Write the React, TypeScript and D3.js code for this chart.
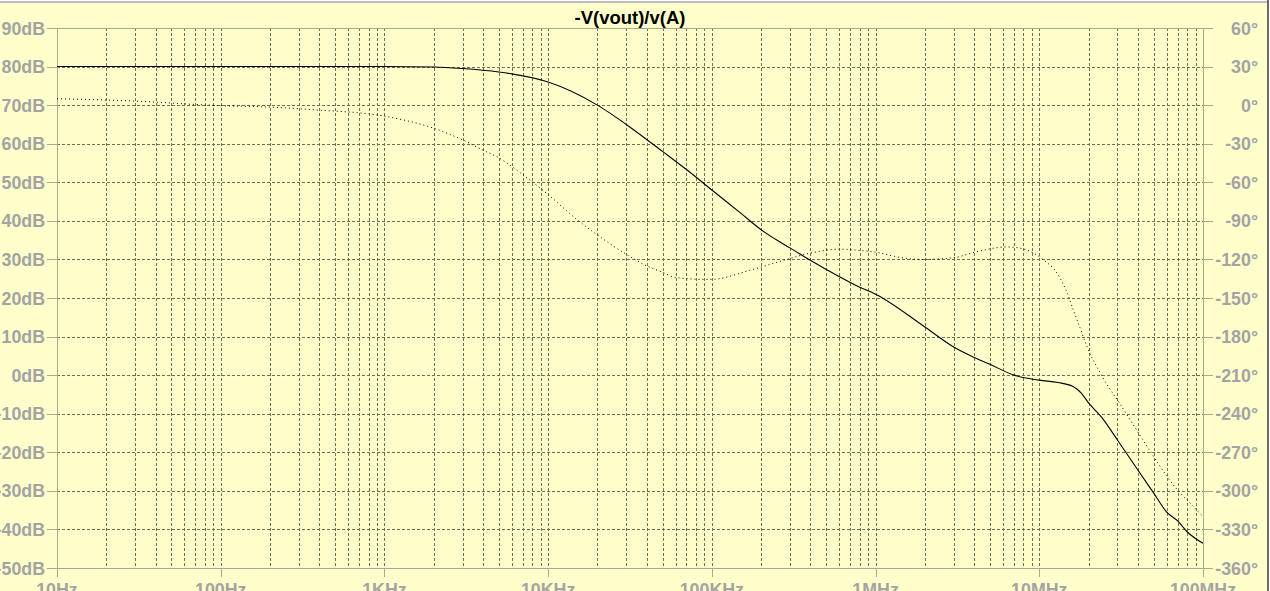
import React from "react";
import * as d3 from "d3";

const title = "-V(vout)/v(A)";
const dbTicks = [90, 80, 70, 60, 50, 40, 30, 20, 10, 0, -10, -20, -30, -40, -50];
const degTicks = [60, 30, 0, -30, -60, -90, -120, -150, -180, -210, -240, -270, -300, -330, -360];
const freqDecades = [10, 100, 1e3, 1e4, 1e5, 1e6, 1e7, 1e8];
const freqLabels = ["10Hz", "100Hz", "1KHz", "10KHz", "100KHz", "1MHz", "10MHz", "100MHz"];

const magFreq = [10, 100, 1000, 2000, 3000, 5000, 6000, 10000, 20000, 30000, 50000, 70000, 100000, 150000, 200000, 261000, 300000, 402000, 500000, 800000, 1e6, 2e6, 3e6, 4e6, 5e6, 7e6, 1e7, 1.3e7, 1.6e7, 1.8e7, 2e7, 2.4e7, 3e7, 4e7, 5e7, 6e7, 7e7, 8e7, 1e8];
const magDb = [80, 80, 80, 79.9, 79.5, 78.6, 78.1, 76, 70, 65, 58, 53.3, 48, 42, 37.7, 34.5, 33, 29.7, 27.4, 22.8, 21, 12.5, 7.3, 4.6, 2.8, 0, -1.3, -1.9, -2.9, -4.6, -7.2, -10.9, -16.8, -24.6, -30.6, -35.5, -37.8, -40.6, -43.6];

const phFreq = [10, 27, 100, 190, 370, 1000, 2000, 3000, 4000, 5000, 7000, 10000, 15000, 20000, 30000, 40000, 50000, 60000, 90000, 100000, 165000, 261000, 402000, 607000, 800000, 1.07e6, 1.3e6, 1.95e6, 2.97e6, 4.15e6, 6.3e6, 7.96e6, 9.2e6, 1.05e7, 1.28e7, 1.48e7, 1.61e7, 1.73e7, 1.99e7, 2.35e7, 2.63e7, 2.99e7, 3.59e7, 4.56e7, 5.47e7, 6.95e7, 8.34e7, 9.47e7, 1e8];
const phDeg = [5, 3.4, -0.4, -1.4, -3.6, -8.6, -18, -27, -35, -41, -54, -69.6, -89, -101, -116, -125, -130, -134, -135.5, -135.5, -129, -121.5, -115, -112, -113, -115, -117.6, -120, -118.7, -114, -110.3, -111.7, -115, -120, -130.5, -146, -159, -169.5, -190, -208, -218.6, -229, -244.8, -265.5, -281, -299, -309.5, -317, -320];

const W = 1270;
const H = 591;
const L = 57;
const R = 1203;
const T = 28;
const B = 568;

export default function App() {
  const x = d3.scaleLog().domain([10, 1e8]).range([L, R]);
  const yL = d3.scaleLinear().domain([-50, 90]).range([B, T]);
  const yR = d3.scaleLinear().domain([-360, 60]).range([B, T]);

  const minors: number[] = [];
  for (let i = 0; i < freqDecades.length - 1; i++) {
    for (let m = 1; m <= 9; m++) minors.push(freqDecades[i] * m);
  }
  minors.push(1e8);

  const magLine = d3
    .line<number>()
    .x((_, i) => x(magFreq[i]))
    .y((d) => yL(d))
    .curve(d3.curveMonotoneX);
  const phLine = d3
    .line<number>()
    .x((_, i) => x(phFreq[i]))
    .y((d) => yR(d))
    .curve(d3.curveMonotoneX);

  const font = "'Liberation Sans', Arial, sans-serif";
  const gridColor = "#6f6f58";
  const frameColor = "#aaa990";
  const labelColor = "#a3a3a3";

  return (
    <svg
      width={W}
      height={H}
      style={{ position: "absolute", left: 0, top: 0, display: "block" }}
    >
      <rect x={0} y={0} width={W} height={H} fill="#ffffcc" />
      <rect x={0} y={0} width={W} height={1} fill="#ffffff" />
      <rect x={0} y={1} width={W} height={2} fill="#bdbdbd" />
      <rect x={1267} y={0} width={2} height={H} fill="#6a6a6a" />
      <rect x={1269} y={0} width={1} height={H} fill="#ffffff" />

      <text
        x={(L + R) / 2}
        y={24}
        textAnchor="middle"
        fontFamily={font}
        fontWeight="bold"
        fontSize={18.5}
        fill="#000"
      >
        {title}
      </text>

      {/* vertical grid */}
      {minors
        .filter((f) => f > 10 && f < 1e8)
        .map((f, i) => (
          <line
            key={"v" + i}
            x1={Math.round(x(f)) + 0.5}
            x2={Math.round(x(f)) + 0.5}
            y1={T}
            y2={B}
            stroke={gridColor}
            strokeWidth={1}
            strokeDasharray="3,2"
          />
        ))}
      {/* horizontal grid */}
      {dbTicks
        .filter((v) => v < 90 && v > -50)
        .map((v, i) => (
          <line
            key={"h" + i}
            x1={L}
            x2={R}
            y1={Math.round(yL(v)) + 0.5}
            y2={Math.round(yL(v)) + 0.5}
            stroke={gridColor}
            strokeWidth={1}
            strokeDasharray="3,2"
          />
        ))}

      {/* frame */}
      <rect
        x={L + 0.5}
        y={T + 0.5}
        width={R - L}
        height={B - T}
        fill="none"
        stroke={frameColor}
        strokeWidth={1}
      />

      {/* left ticks and labels */}
      {dbTicks.map((v, i) => (
        <g key={"l" + i}>
          <line
            x1={47}
            x2={L}
            y1={Math.round(yL(v)) + 0.5}
            y2={Math.round(yL(v)) + 0.5}
            stroke={frameColor}
          />
          <text
            x={45}
            y={yL(v) + 6.5}
            textAnchor="end"
            fontFamily={font}
            fontWeight="bold"
            fontSize={17.8}
            fill={labelColor}
          >
            {v + "dB"}
          </text>
        </g>
      ))}
      {/* right ticks and labels */}
      {degTicks.map((v, i) => (
        <g key={"r" + i}>
          <line
            x1={R}
            x2={1213}
            y1={Math.round(yR(v)) + 0.5}
            y2={Math.round(yR(v)) + 0.5}
            stroke={frameColor}
          />
          <text
            x={1258}
            y={yR(v) + 6.5}
            textAnchor="end"
            fontFamily={font}
            fontWeight="bold"
            fontSize={17.8}
            fill={labelColor}
          >
            {v + "°"}
          </text>
        </g>
      ))}
      {/* bottom ticks and labels */}
      {freqDecades.map((f, i) => (
        <g key={"b" + i}>
          <line
            x1={Math.round(x(f)) + 0.5}
            x2={Math.round(x(f)) + 0.5}
            y1={B}
            y2={577}
            stroke={frameColor}
          />
          <text
            x={x(f)}
            y={596}
            textAnchor="middle"
            fontFamily={font}
            fontWeight="bold"
            fontSize={17.8}
            fill={labelColor}
          >
            {freqLabels[i]}
          </text>
        </g>
      ))}

      {/* curves */}
      <path
        d={phLine(phDeg) || ""}
        fill="none"
        stroke="#000"
        strokeWidth={1}
        strokeDasharray="1,3"
      />
      <path d={magLine(magDb) || ""} fill="none" stroke="#000" strokeWidth={1.1} />
    </svg>
  );
}
